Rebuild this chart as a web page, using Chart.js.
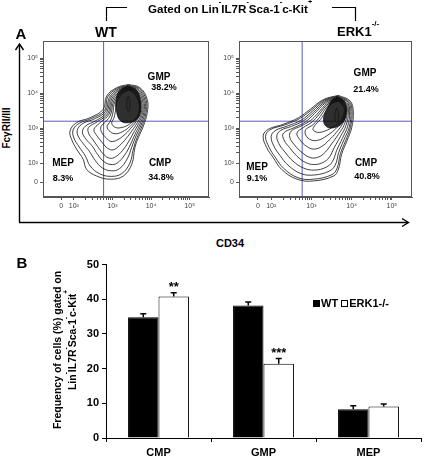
<!DOCTYPE html>
<html>
<head>
<meta charset="utf-8">
<script src="https://cdn.jsdelivr.net/npm/chart.js@4.4.0/dist/chart.umd.min.js"></script>
<style>
body{margin:0;width:427px;height:460px;background:#fff;position:relative;overflow:hidden;font-family:"Liberation Sans",Arial,sans-serif;font-weight:bold;color:#000}
.t{position:absolute;white-space:nowrap;line-height:1}
.c{transform:translate(-50%,-50%)}
.r{transform:translate(-50%,-50%) rotate(-90deg)}
sup{font-size:0.62em;vertical-align:top;position:relative;top:-0.15em;line-height:0}
canvas{position:absolute}
svg{position:absolute;left:0;top:0}
.sq{display:inline-block;width:7px;height:7px;margin-right:1px;vertical-align:0px;box-sizing:border-box}
</style>
</head>
<body>
<!-- panel A frame: arrows and brackets -->
<svg width="427" height="460">
  <g stroke="#000" fill="none" stroke-width="1.4">
    <path d="M19.5 222.5 V45"/>
    <path d="M15.5 50 L19.5 44 L23.5 50"/>
    <path d="M19 222.5 H408"/>
    <path d="M402 218.5 L408.5 222.5 L402 226.5"/>
  </g>
  <g stroke="#000" fill="none" stroke-width="1.2">
    <path d="M106.5 21 V7.5 H127"/>
    <path d="M332 7.5 H355.5 V21"/>
  </g>
</svg>

<canvas id="wtPlot" width="190" height="185" style="left:25px;top:35px"></canvas>
<canvas id="erkPlot" width="197" height="185" style="left:221px;top:35px"></canvas>
<canvas id="barPlot" width="427" height="205" style="left:0;top:255px"></canvas>

<div class="t c" style="left:21px;top:33px;font-size:15px">A</div>
<div class="t c" style="left:106px;top:32px;font-size:14px">WT</div>
<div class="t" style="left:337px;top:25px;font-size:13px">ERK1<sup>-/-</sup></div>
<div class="t" style="left:148px;top:3px;font-size:11.6px">Gated on Lin<sup>-</sup>IL7R<sup>-</sup>Sca-1<sup>-</sup>c-Kit<sup>+</sup></div>
<div class="t r" style="left:7px;top:128px;font-size:10px">FcγRII/III</div>
<div class="t c" style="left:230px;top:243px;font-size:11px">CD34</div>

<div class="t c" style="left:159px;top:77px;font-size:10px">GMP</div>
<div class="t c" style="left:164px;top:87px;font-size:9px">38.2%</div>
<div class="t c" style="left:63px;top:163px;font-size:10px">MEP</div>
<div class="t c" style="left:63px;top:178px;font-size:9px">8.3%</div>
<div class="t c" style="left:160px;top:163px;font-size:10px">CMP</div>
<div class="t c" style="left:161px;top:177px;font-size:9px">34.8%</div>

<div class="t c" style="left:365px;top:73px;font-size:10px">GMP</div>
<div class="t c" style="left:366px;top:89px;font-size:9px">21.4%</div>
<div class="t c" style="left:257px;top:167px;font-size:10px">MEP</div>
<div class="t c" style="left:257px;top:178px;font-size:9px">9.1%</div>
<div class="t c" style="left:366px;top:163px;font-size:10px">CMP</div>
<div class="t c" style="left:367px;top:176px;font-size:9px">40.8%</div>

<div class="t c" style="left:22px;top:262px;font-size:15px">B</div>
<div class="t r" style="left:57px;top:350px;font-size:10.5px">Frequency of cells (%) gated on</div>
<div class="t r" style="left:72px;top:340px;font-size:10.5px">Lin<sup>-</sup>IL7R<sup>-</sup>Sca-1<sup>-</sup>c-Kit<sup>+</sup></div>
<div class="t" style="left:313px;top:298px;font-size:11px"><span class="sq" style="background:#000"></span>WT <span class="sq" style="border:1px solid #000"></span>ERK1-/-</div>

<script>
// ---- panel A : contour plots, axis in log decades ----
const xRange = [1.2, 5.5];
const yRange = [1.03, 5.49];
const gateX = [2.77];
const gateY = [3.2];
const xTickVals = [1.67, 2, 3, 4, 5];
const yTickVals = [1.45, 2, 3, 4, 5];
const decadeLabels = ['0', '10²', '10³', '10⁴', '10⁵'];

// contour rings (x, y in decades), outer to inner
const wtContours = [
  [[3.41,4.25],[3.71,4.16],[3.90,3.82],[3.90,3.44],[3.80,3.06],[3.67,2.73],[3.58,2.44],[3.50,1.97],[3.28,1.63],[2.94,1.54],[2.59,1.63],[2.33,1.82],[2.24,2.11],[2.07,2.40],[1.94,2.68],[1.90,2.92],[2.07,3.16],[2.42,3.30],[2.76,3.54],[2.85,3.92],[3.11,4.16]],
  [[3.42,4.23],[3.70,4.13],[3.87,3.81],[3.87,3.44],[3.77,3.07],[3.64,2.74],[3.54,2.40],[3.45,2.00],[3.24,1.70],[2.96,1.62],[2.66,1.70],[2.42,1.92],[2.30,2.20],[2.14,2.46],[2.00,2.72],[1.98,2.95],[2.14,3.14],[2.46,3.28],[2.79,3.50],[2.88,3.90],[3.13,4.14]],
  [[3.42,4.21],[3.68,4.11],[3.84,3.80],[3.84,3.45],[3.74,3.09],[3.61,2.78],[3.50,2.46],[3.38,2.12],[3.18,1.84],[2.97,1.78],[2.74,1.86],[2.55,2.08],[2.40,2.34],[2.24,2.56],[2.10,2.80],[2.10,2.98],[2.24,3.14],[2.54,3.27],[2.82,3.48],[2.92,3.88],[3.15,4.12]],
  [[3.42,4.19],[3.66,4.09],[3.81,3.79],[3.81,3.45],[3.71,3.11],[3.58,2.82],[3.46,2.52],[3.32,2.24],[3.12,2.00],[2.96,1.96],[2.78,2.04],[2.62,2.24],[2.48,2.48],[2.32,2.68],[2.22,2.88],[2.30,3.06],[2.58,3.22],[2.85,3.45],[2.95,3.86],[3.17,4.10]],
  [[3.42,4.17],[3.64,4.07],[3.78,3.78],[3.78,3.45],[3.68,3.14],[3.54,2.86],[3.41,2.60],[3.26,2.36],[3.08,2.18],[2.93,2.14],[2.78,2.24],[2.64,2.44],[2.50,2.66],[2.38,2.86],[2.38,3.02],[2.60,3.18],[2.88,3.42],[2.98,3.84],[3.19,4.08]],
  [[3.42,4.15],[3.62,4.05],[3.75,3.77],[3.75,3.45],[3.65,3.17],[3.50,2.92],[3.35,2.70],[3.18,2.50],[3.02,2.38],[2.88,2.42],[2.74,2.58],[2.60,2.78],[2.52,2.96],[2.66,3.14],[2.91,3.40],[3.01,3.82],[3.21,4.06]],
  [[3.42,4.13],[3.60,4.03],[3.72,3.76],[3.72,3.45],[3.62,3.20],[3.46,2.98],[3.30,2.80],[3.12,2.66],[2.96,2.62],[2.84,2.72],[2.72,2.88],[2.70,3.04],[2.82,3.18],[2.95,3.38],[3.04,3.80],[3.23,4.04]],
  [[3.42,4.11],[3.58,4.01],[3.70,3.75],[3.70,3.45],[3.60,3.23],[3.44,3.04],[3.26,2.90],[3.08,2.84],[2.94,2.90],[2.86,3.04],[2.94,3.20],[3.00,3.38],[3.07,3.78],[3.25,4.02]],
  [[3.42,4.09],[3.56,3.99],[3.68,3.74],[3.68,3.45],[3.58,3.26],[3.42,3.10],[3.24,3.02],[3.08,3.02],[2.98,3.14],[3.04,3.30],[3.08,3.52],[3.11,3.76],[3.27,4.00]]
];
// dense high-count region and its innermost peak
const wtCore = [[3.40,4.21],[3.62,4.09],[3.72,3.80],[3.72,3.45],[3.62,3.25],[3.44,3.16],[3.22,3.20],[3.11,3.45],[3.10,3.85],[3.21,4.10]];
const wtPeak = [[3.41,3.92],[3.45,3.80],[3.45,3.58],[3.41,3.48],[3.37,3.58],[3.37,3.80]];

const erkContours = [
  [[3.67,3.94],[3.96,3.78],[4.04,3.49],[4.00,3.01],[3.88,2.63],[3.75,2.25],[3.67,1.82],[3.55,1.63],[3.05,1.49],[2.64,1.54],[2.26,1.82],[2.05,2.16],[1.89,2.44],[1.80,2.78],[1.93,2.97],[2.30,3.11],[2.68,3.30],[2.97,3.54],[3.30,3.82]],
  [[3.66,3.92],[3.94,3.76],[4.01,3.49],[3.97,3.02],[3.85,2.64],[3.72,2.27],[3.64,1.86],[3.51,1.67],[3.05,1.54],[2.67,1.58],[2.31,1.85],[2.10,2.17],[1.95,2.45],[1.86,2.77],[1.98,2.96],[2.33,3.09],[2.70,3.27],[2.99,3.51],[3.31,3.80]],
  [[3.66,3.90],[3.92,3.74],[3.98,3.48],[3.94,3.03],[3.81,2.67],[3.68,2.31],[3.59,1.94],[3.44,1.77],[3.07,1.66],[2.74,1.70],[2.42,1.94],[2.22,2.22],[2.07,2.48],[2.00,2.76],[2.10,2.93],[2.40,3.06],[2.75,3.23],[3.02,3.48],[3.33,3.78]],
  [[3.66,3.88],[3.90,3.72],[3.95,3.47],[3.90,3.05],[3.77,2.71],[3.63,2.37],[3.52,2.04],[3.36,1.88],[3.08,1.80],[2.80,1.86],[2.54,2.06],[2.34,2.32],[2.19,2.56],[2.14,2.79],[2.24,2.94],[2.50,3.05],[2.80,3.21],[3.05,3.45],[3.35,3.76]],
  [[3.66,3.86],[3.88,3.70],[3.92,3.46],[3.86,3.08],[3.72,2.76],[3.57,2.45],[3.44,2.16],[3.27,2.01],[3.06,1.96],[2.85,2.02],[2.64,2.20],[2.46,2.44],[2.32,2.66],[2.30,2.85],[2.56,3.01],[2.84,3.17],[3.08,3.42],[3.37,3.74]],
  [[3.66,3.84],[3.86,3.68],[3.89,3.45],[3.82,3.11],[3.67,2.82],[3.50,2.55],[3.35,2.32],[3.17,2.17],[2.97,2.16],[2.77,2.30],[2.58,2.52],[2.46,2.74],[2.50,2.92],[2.74,3.06],[2.98,3.22],[3.14,3.40],[3.40,3.72]],
  [[3.66,3.82],[3.84,3.66],[3.86,3.44],[3.78,3.14],[3.62,2.88],[3.44,2.66],[3.26,2.48],[3.06,2.40],[2.88,2.48],[2.72,2.66],[2.64,2.86],[2.80,3.02],[3.02,3.18],[3.18,3.38],[3.42,3.70]],
  [[3.66,3.80],[3.82,3.64],[3.84,3.43],[3.75,3.17],[3.58,2.96],[3.38,2.78],[3.18,2.66],[3.00,2.66],[2.86,2.80],[2.86,2.96],[3.04,3.10],[3.22,3.34],[3.44,3.68]],
  [[3.66,3.78],[3.80,3.62],[3.81,3.42],[3.72,3.20],[3.54,3.04],[3.34,2.92],[3.16,2.88],[3.04,2.96],[3.10,3.10],[3.26,3.30],[3.46,3.66]]
];
const erkCore = [[3.64,3.91],[3.82,3.76],[3.87,3.45],[3.78,3.16],[3.58,3.02],[3.38,3.04],[3.30,3.25],[3.40,3.58],[3.52,3.82]];
const erkPeak = [[3.63,3.58],[3.67,3.45],[3.67,3.25],[3.63,3.16],[3.59,3.25],[3.59,3.45]];

// ---- panel B : bar chart ----
const categories = ['CMP', 'GMP', 'MEP'];
const wtValues = [34.8, 38.2, 8.3];
const erkValues = [40.8, 21.4, 9.1];
const wtErr = [1.0, 1.0, 1.0];
const erkErr = [1.1, 1.5, 0.7];
const sigMarks = ['**', '***', ''];

Chart.defaults.font.family = '"Liberation Sans", Arial, sans-serif';

// minor log ticks between 10^2 and 10^5
function minorTicks(){
    let out = [];
    for(let d=2; d<5; d++){
        for(let k=2; k<10; k++) out.push(d + Math.log10(k));
    }
    return out;
}

const boxPlugin = {
    id:'box',
    afterDatasetsDraw(c){
        const a = c.chartArea, ctx = c.ctx;
        ctx.save();
        ctx.strokeStyle = '#555';
        ctx.lineWidth = 1;
        ctx.strokeRect(Math.round(a.left)+0.5, Math.round(a.top)+0.5, Math.round(a.width)-1, Math.round(a.height)-1);
        ctx.restore();
    }
};

function facsAxis(vals, fitKey, fitVal){
    const all = vals.concat(minorTicks());
    return {
        type:'linear',
        afterFit: s => { s[fitKey] = fitVal; },
        afterBuildTicks: s => { s.ticks = all.map(v => ({value:v})); },
        ticks:{autoSkip:false, maxRotation:0, padding:2, color:'#444',
            font:{size:7},
            callback:(v, i) => i < decadeLabels.length ? decadeLabels[i] : ''},
        grid:{drawOnChartArea:false, tickLength:3, color:'#555'},
        border:{color:'#555'}
    };
}

const pts = r => r.concat([r[0]]).map(p => ({x:p[0], y:p[1]}));

function facsChart(id, rings, core, peak){
    const datasets = [];
    datasets.push({data:pts(core), showLine:true, borderColor:'#111', borderWidth:0.8,
        backgroundColor:'rgba(10,10,10,0.85)', fill:'shape', pointRadius:0, tension:0.4});
    rings.forEach(r => datasets.push({
        data:pts(r), showLine:true, borderColor:'#111', borderWidth:0.8,
        pointRadius:0, tension:0.4, fill:false
    }));
    datasets.push({data:pts(peak), showLine:true, borderColor:'#222', borderWidth:0.6,
        backgroundColor:'#eeeeee', fill:'shape', pointRadius:0, tension:0.4});
    // quadrant gates drawn over the contours
    datasets.push({data:[{x:gateX[0], y:yRange[0]}, {x:gateX[0], y:yRange[1]}],
        showLine:true, borderColor:'#5a5abf', borderWidth:1, pointRadius:0});
    datasets.push({data:[{x:xRange[0], y:gateY[0]}, {x:xRange[1], y:gateY[0]}],
        showLine:true, borderColor:'#5a5abf', borderWidth:1, pointRadius:0});

    const x = facsAxis(xTickVals, 'height', 23);
    x.min = xRange[0]; x.max = xRange[1];
    const y = facsAxis(yTickVals, 'width', 18);
    y.min = yRange[0]; y.max = yRange[1];

    return new Chart(document.getElementById(id), {
        type:'scatter',
        data:{datasets},
        options:{
            responsive:false, animation:false, events:[],
            layout:{padding:{top:5, right:6, left:0, bottom:0}},
            plugins:{legend:{display:false}, tooltip:{enabled:false}},
            scales:{x, y}
        },
        plugins:[boxPlugin]
    });
}

facsChart('wtPlot', wtContours, wtCore, wtPeak);
facsChart('erkPlot', erkContours, erkCore, erkPeak);

// error bars + significance stars
const errPlugin = {
    id:'errbars',
    afterDatasetsDraw(c){
        const ctx = c.ctx, ys = c.scales.y;
        ctx.save();
        ctx.strokeStyle = '#000';
        ctx.lineWidth = 1.5;
        [wtErr, erkErr].forEach((errs, di) => {
            const vals = c.data.datasets[di].data;
            c.getDatasetMeta(di).data.forEach((bar, i) => {
                const top = ys.getPixelForValue(vals[i] + errs[i]);
                ctx.beginPath();
                ctx.moveTo(bar.x, bar.y);
                ctx.lineTo(bar.x, top);
                ctx.moveTo(bar.x - 3, top);
                ctx.lineTo(bar.x + 3, top);
                ctx.stroke();
            });
        });
        ctx.fillStyle = '#000';
        ctx.font = 'bold 13px "Liberation Sans", Arial';
        ctx.textAlign = 'center';
        ctx.textBaseline = 'top';
        const meta = c.getDatasetMeta(1);
        sigMarks.forEach((s, i) => {
            if(!s) return;
            const top = ys.getPixelForValue(erkValues[i] + erkErr[i]);
            ctx.fillText(s, meta.data[i].x, top - 12);
        });
        ctx.restore();
    }
};

new Chart(document.getElementById('barPlot'), {
    type:'bar',
    data:{
        labels:categories,
        datasets:[
            {label:'WT', data:wtValues, backgroundColor:'#000', borderColor:'#000', borderWidth:1},
            {label:'ERK1-/-', data:erkValues, backgroundColor:'#fff', borderColor:'#000', borderWidth:1}
        ]
    },
    options:{
        responsive:false, animation:false, events:[],
        categoryPercentage:0.58, barPercentage:1.0,
        layout:{padding:{top:8, right:6, left:0, bottom:0}},
        plugins:{legend:{display:false}, tooltip:{enabled:false}},
        scales:{
            x:{
                afterFit: s => { s.height = 22; },
                ticks:{color:'#000', font:{size:11, weight:'bold'}, padding:4},
                grid:{drawOnChartArea:false, tickLength:4, color:'#000'},
                border:{color:'#000'}
            },
            y:{
                min:0, max:50,
                afterFit: s => { s.width = 106; },
                ticks:{stepSize:10, color:'#000', font:{size:11, weight:'bold'}, padding:3},
                grid:{drawOnChartArea:false, tickLength:4, color:'#000'},
                border:{color:'#000'}
            }
        }
    },
    plugins:[errPlugin]
});
</script>
</body>
</html>
